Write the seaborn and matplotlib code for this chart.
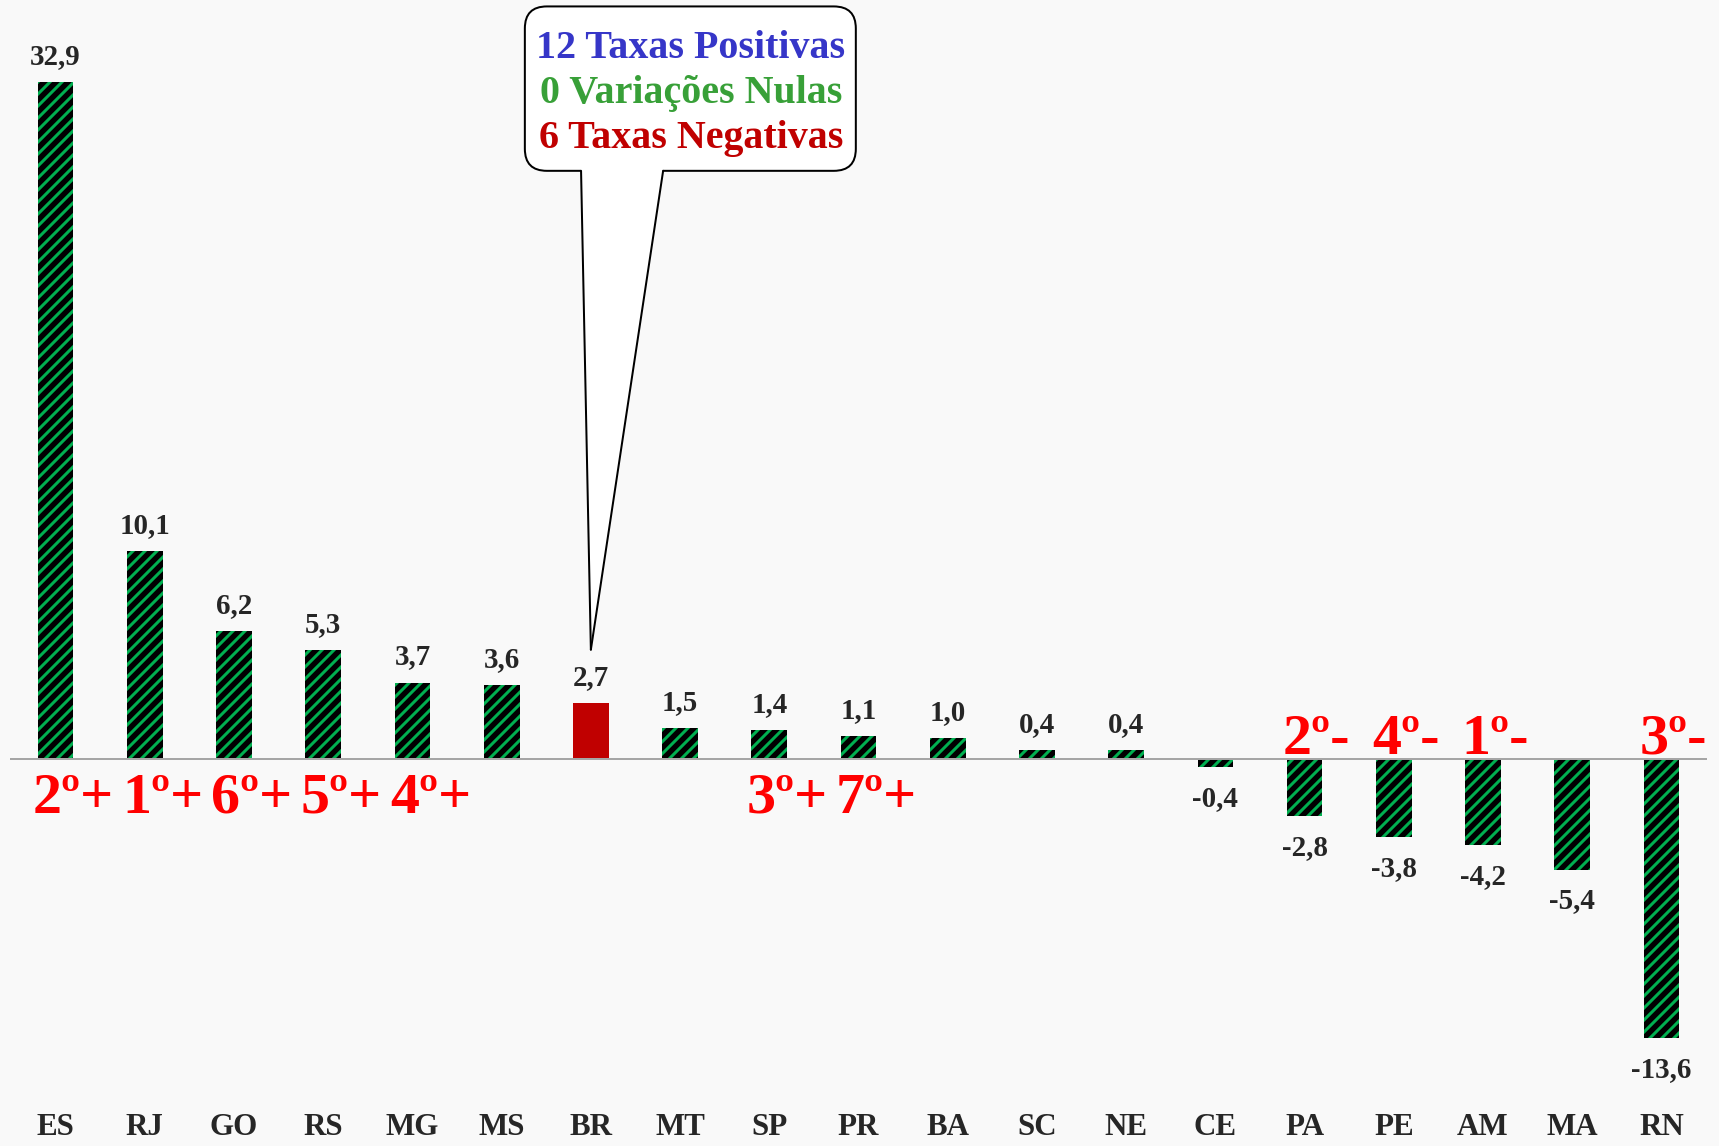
import numpy as np
import seaborn as sns
from matplotlib import pyplot as plt
from matplotlib.patches import FancyBboxPatch, Polygon
from matplotlib.lines import Line2D
from matplotlib.transforms import IdentityTransform

states = ['ES', 'RJ', 'GO', 'RS', 'MG', 'MS', 'BR', 'MT', 'SP', 'PR',
          'BA', 'SC', 'NE', 'CE', 'PA', 'PE', 'AM', 'MA', 'RN']
rates = [32.9, 10.1, 6.2, 5.3, 3.7, 3.6, 2.7, 1.5, 1.4, 1.1,
         1.0, 0.4, 0.4, -0.4, -2.8, -3.8, -4.2, -5.4, -13.6]
ranks = ['2º+', '1º+', '6º+', '5º+', '4º+', '', '', '', '3º+', '7º+',
         '', '', '', '', '2º-', '4º-', '1º-', '', '3º-']
highlight = 'BR'
summary_lines = ['12 Taxas Positivas', '0 Variações Nulas', '6 Taxas Negativas']
summary_colors = ['#3636C8', '#38A038', '#C00000']

BG = '#F9F9F9'
GREEN = '#00B050'
AXIS_GREY = '#A6A6A6'

sns.set_style('white')
plt.rcParams['font.family'] = ['Liberation Serif', 'DejaVu Serif']
plt.rcParams['hatch.linewidth'] = 3.0

fig = plt.figure(figsize=(1719 / 72, 1146 / 72), dpi=72, facecolor=BG)
ax = fig.add_axes([11 / 1719, 0.0691, 1695 / 1719, 0.8966])
ax.set_facecolor(BG)

sns.barplot(x=states, y=rates, width=0.4, color='black', saturation=1, ax=ax)
for state, patch in zip(states, ax.patches):
    patch.set_linewidth(0)
    if state == highlight:
        patch.set_facecolor('#C00000')
    else:
        patch.set_facecolor('black')
        patch.set_edgecolor(GREEN)
        patch.set_hatch('//')

ax.set_xlim(-0.5, len(states) - 0.5)
ax.set_ylim(-15, 35)
ax.set_xlabel('')
ax.set_ylabel('')
ax.set_yticks([])
for side in ['top', 'right', 'left']:
    ax.spines[side].set_visible(False)
ax.spines['bottom'].set_position(('data', 0))
ax.spines['bottom'].set_color(AXIS_GREY)
ax.spines['bottom'].set_linewidth(2)
ax.tick_params(axis='x', which='major', length=0, labelbottom=False)
ax.set_xticks(np.arange(-0.5, len(states), 1), minor=True)
ax.tick_params(axis='x', which='minor', length=10, width=1.5, color=AXIS_GREY, direction='out')

# category names sit at the bottom of the chart, not on the zero line
sec = ax.secondary_xaxis('bottom')
sec.set_xticks(range(len(states)), labels=states)
sec.tick_params(length=0, pad=46, labelsize=31)
sec.spines['bottom'].set_visible(False)
for lab in sec.get_xticklabels():
    lab.set_fontweight('bold')

for i, v in enumerate(rates):
    ax.annotate(f'{v:.1f}'.replace('.', ','), (i, v),
                xytext=(0, 18 if v > 0 else -39), textcoords='offset points',
                ha='center', va='baseline', fontsize=29, fontweight='bold')

for i, (r, v) in enumerate(zip(ranks, rates)):
    if not r:
        continue
    offset = (18, -54) if v > 0 else (12, 5)
    ax.annotate(r, (i, 0), xytext=offset, textcoords='offset points',
                ha='center', va='baseline', fontsize=58, fontweight='bold',
                color='red', zorder=4)

# speech-bubble callout pointing at BR
px = IdentityTransform()
x0, y0 = ax.transData.transform((5.26, 28.6))
x1, y1 = ax.transData.transform((8.97, 36.6))
box = FancyBboxPatch((x0, y0), x1 - x0, y1 - y0,
                     boxstyle='round,pad=0,rounding_size=22',
                     facecolor='white', edgecolor='black', linewidth=2,
                     transform=px, clip_on=False, zorder=5)
fig.add_artist(box)
blx, by = ax.transData.transform((5.89, 28.6))
brx, _ = ax.transData.transform((6.81, 28.6))
tipx, tipy = ax.transData.transform((6.0, 5.3))
tail = Polygon([(blx, by + 4), (tipx, tipy), (brx, by + 4)], closed=True,
               facecolor='white', edgecolor='none', transform=px,
               clip_on=False, zorder=6)
fig.add_artist(tail)
for bx in (blx, brx):
    fig.add_artist(Line2D([bx, tipx], [by, tipy], color='black', linewidth=2,
                          transform=px, clip_on=False, zorder=7))

for y, line, c in zip([34.55, 32.35, 30.15], summary_lines, summary_colors):
    tx, ty = ax.transData.transform((7.12, y))
    fig.text(tx, ty, line, transform=px, ha='center', va='center', fontsize=40,
             fontweight='bold', color=c, zorder=8)

fig.savefig('out.png', dpi=72, facecolor=BG)
